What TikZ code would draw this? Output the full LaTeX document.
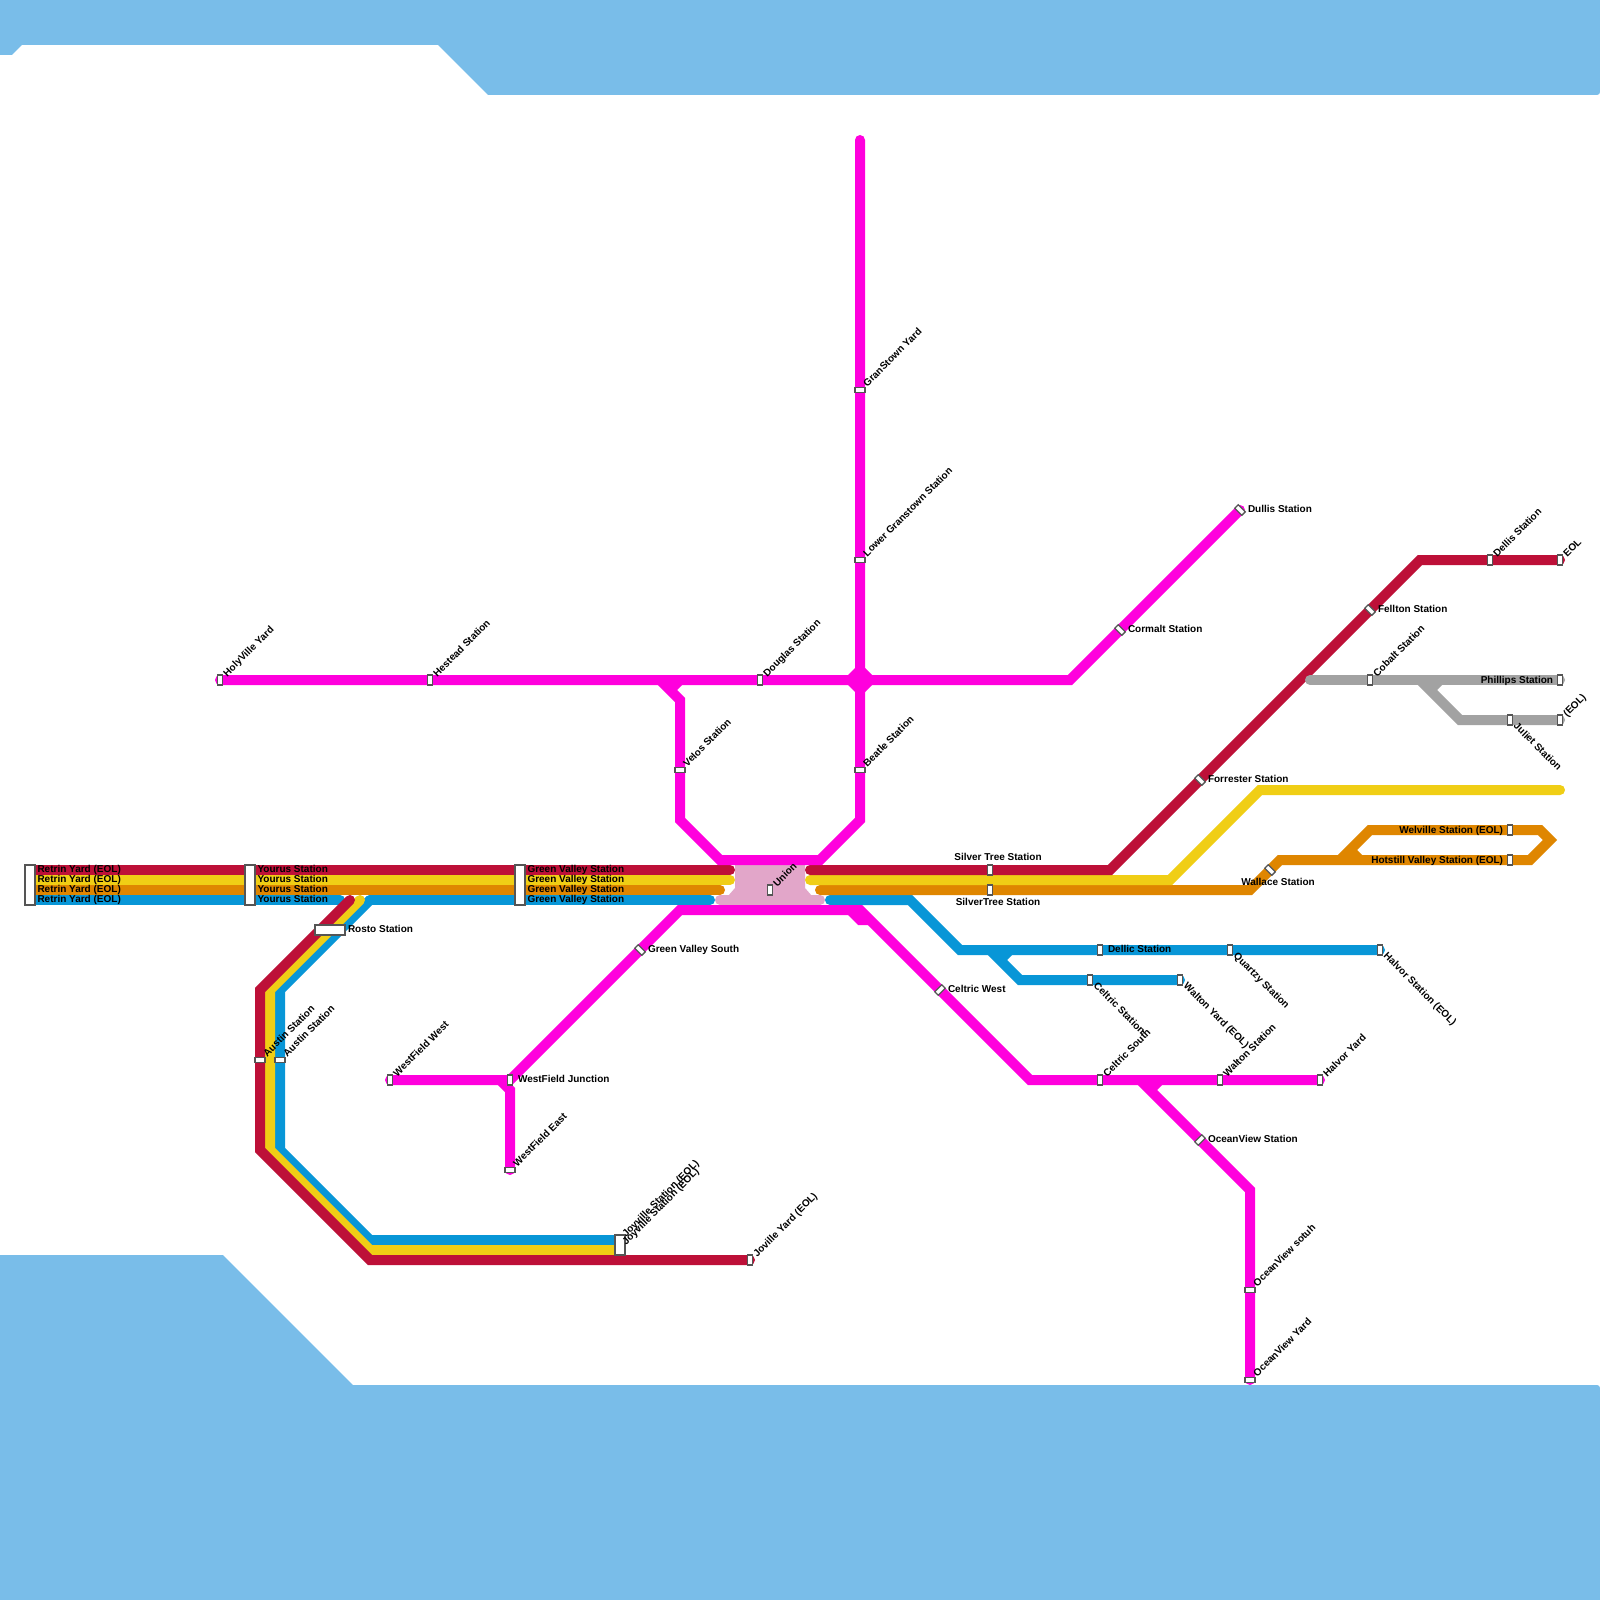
\documentclass[tikz,border=0pt]{standalone}
\usepackage{fontspec}
\setmainfont{Liberation Sans}
\definecolor{water}{HTML}{79BDE9}
\definecolor{lred}{HTML}{BD1038}
\definecolor{lyel}{HTML}{F0CE15}
\definecolor{lora}{HTML}{DF8600}
\definecolor{lblu}{HTML}{0896D7}
\definecolor{lgry}{HTML}{A2A2A2}
\definecolor{lmag}{HTML}{FF00DD}
\definecolor{lpnk}{HTML}{E2A6C9}
\definecolor{stedge}{HTML}{555555}
\tikzset{
 track/.style={line width=10pt,line cap=round,line join=miter,miter limit=10},
 stub/.style={line width=10pt,line cap=butt,line join=miter},
 stn/.style={draw=stedge,fill=white,line width=1.3pt,minimum width=5pt,minimum height=10pt,inner sep=0pt,outer sep=0pt},
 stnH/.style={stn,minimum width=10pt,minimum height=5pt},
 stnU/.style={stn,rotate=45},
 stnD/.style={stn,rotate=-45},
 lab/.style={font=\fontsize{10pt}{12pt}\selectfont\bfseries,text=black,inner sep=0pt,outer sep=0pt,text height=7.2pt,text depth=2.1pt},
 labE/.style={lab,anchor=west},
 labW/.style={lab,anchor=east},
 labNE/.style={lab,anchor=west,rotate=45},
 labSE/.style={lab,anchor=west,rotate=-45},
}
\newcommand{\lblNE}[2]{\node[labNE] (#1L) at ([shift={(5.5,-4.5)}]#1.center) {#2};}
\newcommand{\lblSE}[2]{\node[labSE] (#1L) at ([shift={(5,5)}]#1.center) {#2};}
\newcommand{\lblE}[2]{\node[labE] (#1L) at ([shift={(8,0)}]#1.center) {#2};}
\newcommand{\lblW}[2]{\node[labW] (#1L) at ([shift={(-7,1)}]#1.center) {#2};}
\begin{document}
\begin{tikzpicture}[x=1pt,y=-1pt]
\useasboundingbox (0,0) rectangle (1600,1600);
\fill[white] (0,0) rectangle (1600,1600);
% water
\fill[water] (0,0) -- (1600,0) [rounded corners=3pt] -- (1600,95) [sharp corners] -- (488,95) -- (438,45) -- (22,45) -- (12,55) -- (0,55) -- cycle;
\fill[water] (0,1600) -- (0,1255) -- (223,1255) -- (353,1385) [rounded corners=3pt] -- (1600,1385) [sharp corners] -- (1600,1600) -- cycle;
% union interchange
\draw[line width=10pt,line cap=round,lpnk] (720,900) -- (820,900);
\fill[lpnk] (735,865) -- (805,865) -- (805,888) -- (812,896) -- (728,896) -- (735,888) -- cycle;
% left main group
\draw[track,lblu] (30,900) -- (340,900);
\draw[track,lblu] (370,900) -- (710,900);
\draw[track,lora] (30,890) -- (720,890);
\draw[track,lyel] (30,880) -- (730,880);
\draw[track,lred] (30,870) -- (730,870);
% south-west loop
\draw[track,lblu] (370,900) -- (280,990) -- (280,1150) -- (370,1240) -- (620,1240);
\draw[track,lyel] (360,900) -- (270,990) -- (270,1150) -- (370,1250) -- (620,1250);
\draw[track,lred] (350,900) -- (260,990) -- (260,1150) -- (370,1260) -- (750,1260);
% right main group
\draw[track,lblu] (830,900) -- (910,900) -- (960,950) -- (1380,950);
\draw[track,lblu] (990,950) -- (1020,980) -- (1180,980);
\draw[stub,lblu] (1000,960) -- (1010,950);
\draw[track,lora] (820,890) -- (1250,890) -- (1280,860) -- (1530,860) -- (1550,840) -- (1540,830) -- (1370,830) -- (1340,860);
\draw[stub,lora] (1350,850) -- (1360,860);
\draw[track,lyel] (810,880) -- (1170,880) -- (1260,790) -- (1560,790);
\draw[track,lred] (810,870) -- (1110,870) -- (1420,560) -- (1560,560);
\draw[track,lgry] (1310,680) -- (1560,680);
\draw[track,lgry] (1420,680) -- (1460,720) -- (1560,720);
\draw[stub,lgry] (1430,690) -- (1440,680);
% magenta
\draw[track,lmag] (220,680) -- (1070,680) -- (1240,510);
\draw[track,lmag] (860,140) -- (860,820) -- (820,860) -- (720,860) -- (680,820) -- (680,700) -- (660,680);
\draw[stub,lmag] (670,690) -- (680,680);
\fill[lmag] (848,675) -- (855,668) -- (865,668) -- (872,675) -- (872,685) -- (865,692) -- (855,692) -- (848,685) -- cycle;
\draw[track,lmag] (390,1080) -- (510,1080) -- (680,910) -- (860,910) -- (1030,1080) -- (1320,1080);
\draw[track,lmag] (510,1170) -- (510,1090) -- (500,1080);
\draw[track,lmag] (1140,1080) -- (1250,1190) -- (1250,1380);
\draw[stub,lmag] (1150,1090) -- (1160,1080);
\fill[lmag] (846.5,913.5) -- (856.5,923.5) -- (858,925) -- (870,925) -- (870,915) -- (860,910) -- (850,906.5) -- cycle;
% stations
\node[stn,minimum width=10pt,minimum height=40pt] (retrin) at (30,885) {};
\node[stn,minimum width=10pt,minimum height=40pt] (yourus) at (250,885) {};
\node[stn,minimum width=10pt,minimum height=40pt] (greenv) at (520,885) {};
\node[stn,minimum width=10pt,minimum height=20pt] (joyv) at (620,1245) {};
\node[stn,minimum width=30pt,minimum height=10pt] (rosto) at (330,930) {};
\node[stnH] (austinA) at (260,1060) {};
\node[stnH] (austinB) at (280,1060) {};
\node[stn] (holyv) at (220,680) {};
\node[stn] (hestead) at (430,680) {};
\node[stn] (douglas) at (760,680) {};
\node[stnH] (granst) at (860,390) {};
\node[stnH] (lowergr) at (860,560) {};
\node[stnH] (beatle) at (860,770) {};
\node[stnH] (velos) at (680,770) {};
\node[stnU] (dullis) at (1240,510) {};
\node[stnU] (cormalt) at (1120,630) {};
\node[stn] (dellis) at (1490,560) {};
\node[stn] (eolA) at (1560,560) {};
\node[stnU] (fellton) at (1370,610) {};
\node[stnU] (forrest) at (1200,780) {};
\node[stnU] (wallace) at (1270,870) {};
\node[stn] (cobalt) at (1370,680) {};
\node[stn] (phillips) at (1560,680) {};
\node[stn] (eolB) at (1560,720) {};
\node[stn] (juliet) at (1510,720) {};
\node[stn] (welv) at (1510,830) {};
\node[stn] (hotst) at (1510,860) {};
\node[stn] (silverA) at (990,870) {};
\node[stn] (silverB) at (990,890) {};
\node[stn] (union) at (770,890) {};
\node[stnU] (gvsouth) at (640,950) {};
\node[stn] (wfjunc) at (510,1080) {};
\node[stn] (wfwest) at (390,1080) {};
\node[stnH] (wfeast) at (510,1170) {};
\node[stnD] (celwest) at (940,990) {};
\node[stn] (dellic) at (1100,950) {};
\node[stn] (quartzy) at (1230,950) {};
\node[stn] (halvorS) at (1380,950) {};
\node[stn] (celst) at (1090,980) {};
\node[stn] (waltonY) at (1180,980) {};
\node[stn] (celsouth) at (1100,1080) {};
\node[stn] (waltonS) at (1220,1080) {};
\node[stn] (halvorY) at (1320,1080) {};
\node[stnD] (ocview) at (1200,1140) {};
\node[stnH] (ocsouth) at (1250,1290) {};
\node[stnH] (ocyard) at (1250,1380) {};
\node[stn] (joviY) at (750,1260) {};
% labels
\foreach \yy/\tag in {870/a,880/b,890/c,900/d}{
 \node[labE] (retrin\tag) at (37.5,\yy) {Retrin Yard (EOL)};
 \node[labE] (yourus\tag) at (257.5,\yy) {Yourus Station};
 \node[labE] (greenv\tag) at (527.5,\yy) {Green Valley Station};
}
\node[labNE] (joyvLa) at ([shift={(4.5,-9.5)}]joyv.center) {Joyville Station (EOL)};
\node[labNE] (joyvLb) at ([shift={(4.5,-1.5)}]joyv.center) {Joyville Station (EOL)};
\node[labE] (rostoL) at ([shift={(18,0)}]rosto.center) {Rosto Station};
\lblNE{austinA}{Austin Station}
\lblNE{austinB}{Austin Station}
\lblNE{holyv}{HolyVille Yard}
\lblNE{hestead}{Hestead Station}
\lblNE{douglas}{Douglas Station}
\lblNE{granst}{GranStown Yard}
\lblNE{lowergr}{Lower Granstown Station}
\lblNE{beatle}{Beatle Station}
\lblNE{velos}{Velos Station}
\lblE{dullis}{Dullis Station}
\lblE{cormalt}{Cormalt Station}
\lblNE{dellis}{Dellis Station}
\lblNE{eolA}{EOL}
\lblE{fellton}{Fellton Station}
\lblE{forrest}{Forrester Station}
\node[lab] (wallaceL) at (1278,883) {Wallace Station};
\lblNE{cobalt}{Cobalt Station}
\lblW{phillips}{Phillips Station}
\lblNE{eolB}{(EOL)}
\lblSE{juliet}{Juliet Station}
\lblW{welv}{Welville Station (EOL)}
\lblW{hotst}{Hotstill Valley Station (EOL)}
\node[lab] (silverAL) at (998,858) {Silver Tree Station};
\node[lab] (silverBL) at (998,903) {SilverTree Station};
\lblNE{union}{Union}
\lblE{gvsouth}{Green Valley South}
\lblE{wfjunc}{WestField Junction}
\lblNE{wfwest}{WestField West}
\lblNE{wfeast}{WestField East}
\lblE{celwest}{Celtric West}
\node[labE] (dellicL) at ([shift={(8,0)}]dellic.center) {Dellic Station};
\lblSE{quartzy}{Quartzy Station}
\lblSE{halvorS}{Halvor Station (EOL)}
\lblSE{celst}{Celtric Station}
\lblSE{waltonY}{Walton Yard (EOL)}
\lblNE{celsouth}{Celtric South}
\lblNE{waltonS}{Walton Station}
\lblNE{halvorY}{Halvor Yard}
\lblE{ocview}{OceanView Station}
\lblNE{ocsouth}{OceanView sotuh}
\lblNE{ocyard}{OceanView Yard}
\lblNE{joviY}{Joville Yard (EOL)}
\end{tikzpicture}
\end{document}
